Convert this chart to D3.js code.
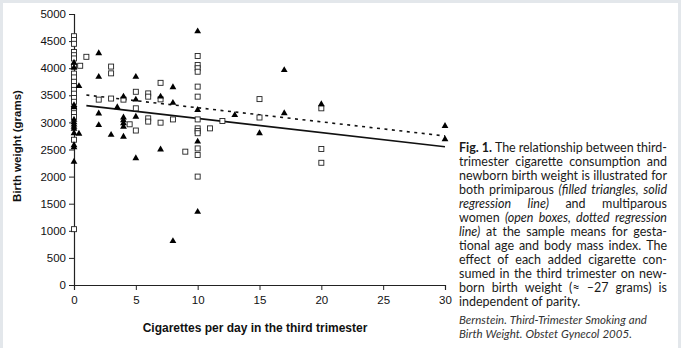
<!DOCTYPE html>
<html>
<head>
<meta charset="utf-8">
<script src="https://cdn.jsdelivr.net/npm/d3@7"></script>
<style>
  body { margin: 0; background: #e3e7eb; }
  svg { display: block; }
</style>
</head>
<body>
<svg id="chart" width="681" height="348"></svg>
<script>
// primiparous women - filled triangles
var primiparous = [
  [0, 4100], [0, 4010], [0, 3320], [0, 3280], [0, 3050], [0, 3000], [0, 2960], [0, 2920],
  [0, 2880], [0, 2800], [0, 2580], [0, 2540], [0, 2275],
  [0.4, 3670], [0.4, 2790],
  [2, 4275], [2, 3840], [2, 3165], [2, 2950],
  [3, 2770], [3.5, 3280],
  [4, 3475], [4, 3090], [4, 3040], [4, 2985], [4, 2920], [4, 2735],
  [5, 3840], [5, 3420], [5, 3105], [5, 2340],
  [7, 3475], [7, 2500],
  [8, 3650], [8, 3360], [8, 810],
  [10, 4680], [10, 3230], [10, 2645], [10, 1350],
  [13, 3135], [15, 2800], [17, 3965], [17, 3170], [20, 3335],
  [30, 2935], [30, 2690]
];

// multiparous women - open boxes
var multiparous = [
  [0, 4590], [0, 4520], [0, 4450], [0, 4300], [0, 4240], [0, 4180], [0, 4030], [0, 3900],
  [0, 3830], [0, 3750], [0, 3670], [0, 3600], [0, 3530], [0, 3450], [0, 3380], [0, 3230],
  [0, 3170], [0, 3100], [0, 2680], [0, 1030],
  [0.5, 4045], [1, 4210], [2, 3420],
  [3, 4030], [3, 3905], [3, 3440],
  [4, 3420], [4.5, 2965],
  [5, 3565], [5, 3260], [5, 2850],
  [6, 3535], [6, 3475], [6, 3075], [6, 3015],
  [7, 3730], [7, 3425], [7, 2995],
  [8, 3055], [9, 2460],
  [10, 4225], [10, 4060], [10, 4000], [10, 3935], [10, 3660], [10, 3475], [10, 3055],
  [10, 2890], [10, 2840], [10, 2800], [10, 2520], [10, 2400], [10, 2000],
  [11, 2890], [12, 3025],
  [15, 3430], [15, 3090],
  [20, 3260], [20, 2510], [20, 2255]
];

// regression lines (end points)
var primLine = [[1, 3310], [30, 2550]];
var multiLine = [[1, 3505], [30, 2750]];

var xTicks = [0, 5, 10, 15, 20, 25, 30];
var yTicks = [0, 500, 1000, 1500, 2000, 2500, 3000, 3500, 4000, 4500, 5000];

// caption - "b:" bold word, "i:" italic word
var captionLines = [
  "b:Fig. b:1. The relationship between third-",
  "trimester cigarette consumption and",
  "newborn birth weight is illustrated for",
  "both primiparous i:(filled i:triangles, i:solid",
  "i:regression i:line) and multiparous",
  "women i:(open i:boxes, i:dotted i:regression",
  "i:line) at the sample means for gesta-",
  "tional age and body mass index. The",
  "effect of each added cigarette con-",
  "sumed in the third trimester on new-",
  "born birth weight (\u2248 \u201327 grams) is",
  "independent of parity."
];
var citationLines = [
  "Bernstein. Third-Trimester Smoking and",
  "Birth Weight. Obstet Gynecol 2005."
];

var svg = d3.select("#chart");

// white page inside the grey frame
svg.append("rect")
  .attr("x", 3).attr("y", 3)
  .attr("width", 675).attr("height", 345)
  .attr("fill", "#fff");

var x = d3.scaleLinear().domain([0, 30]).range([74, 445]);
var y = d3.scaleLinear().domain([0, 5000]).range([285, 14]);

var axisFont = "Liberation Sans, Arial, sans-serif";

// y axis
var yAxis = svg.append("g")
  .attr("transform", "translate(" + x(0) + ",0)")
  .call(d3.axisLeft(y).tickValues(yTicks).tickSize(5).tickPadding(3).tickFormat(d3.format("d")));
// x axis
var xAxis = svg.append("g")
  .attr("transform", "translate(0," + y(0) + ")")
  .call(d3.axisBottom(x).tickValues(xTicks).tickSize(5).tickPadding(6).tickFormat(d3.format("d")));

[xAxis, yAxis].forEach(function (g) {
  g.select(".domain").attr("stroke", "#222").attr("stroke-width", 1.2);
  g.selectAll(".tick line").attr("stroke", "#222");
  g.selectAll(".tick text")
    .attr("fill", "#111")
    .style("font-family", axisFont)
    .style("font-size", "11.5px");
});

// axis titles
svg.append("text")
  .attr("transform", "translate(21,146) rotate(-90)")
  .attr("text-anchor", "middle")
  .style("font-family", axisFont)
  .style("font-size", "11.5px")
  .style("font-weight", "bold")
  .attr("fill", "#111")
  .text("Birth weight (grams)");

svg.append("text")
  .attr("x", 255).attr("y", 332)
  .attr("text-anchor", "middle")
  .style("font-family", axisFont)
  .style("font-size", "12px")
  .style("font-weight", "bold")
  .attr("fill", "#111")
  .text("Cigarettes per day in the third trimester");

// regression lines
var line = d3.line().x(function (d) { return x(d[0]); }).y(function (d) { return y(d[1]); });

svg.append("path")
  .datum(primLine)
  .attr("d", line)
  .attr("fill", "none")
  .attr("stroke", "#111")
  .attr("stroke-width", 1.6);

svg.append("path")
  .datum(multiLine)
  .attr("d", line)
  .attr("fill", "none")
  .attr("stroke", "#111")
  .attr("stroke-width", 1.6)
  .attr("stroke-dasharray", "3,4.5");

// open boxes
svg.append("g")
  .selectAll("rect")
  .data(multiparous)
  .enter()
  .append("rect")
  .attr("x", function (d) { return x(d[0]) - 2.5; })
  .attr("y", function (d) { return y(d[1]) - 2.5; })
  .attr("width", 5).attr("height", 5)
  .attr("fill", "#fff")
  .attr("stroke", "#222")
  .attr("stroke-width", 0.9);

// filled triangles
var tri = d3.symbol().type(d3.symbolTriangle).size(20);
svg.append("g")
  .selectAll("path")
  .data(primiparous)
  .enter()
  .append("path")
  .attr("d", tri)
  .attr("transform", function (d) { return "translate(" + x(d[0]) + "," + y(d[1]) + ")"; })
  .attr("fill", "#000");

// caption, justified by hand
var capFont = "Lato, 'Open Sans', sans-serif";
var capX = 459, capW = 208, capY = 152, capStep = 14;

function drawLine(str, yy, justify, size, baseStyle, colour) {
  var words = str.split(" ").map(function (w) {
    if (w.indexOf("b:") == 0) return { t: w.slice(2), s: "bold" };
    if (w.indexOf("i:") == 0) return { t: w.slice(2), s: "italic" };
    return { t: w, s: baseStyle };
  });
  var g = svg.append("g");
  var nodes = words.map(function (w) {
    return g.append("text")
      .attr("y", yy)
      .style("font-family", capFont)
      .style("font-size", size + "px")
      .style("font-weight", w.s == "bold" ? "bold" : "normal")
      .style("font-style", w.s == "italic" ? "italic" : "normal")
      .attr("fill", colour)
      .text(w.t);
  });
  var widths = nodes.map(function (n) { return n.node().getComputedTextLength(); });
  var space = size * 0.26;
  if (justify && words.length > 1)
    space = (capW - d3.sum(widths)) / (words.length - 1);
  var cx = capX;
  nodes.forEach(function (n, i) {
    n.attr("x", cx);
    cx += widths[i] + space;
  });
}

captionLines.forEach(function (l, i) {
  drawLine(l, capY + i * capStep, i < captionLines.length - 1, 12.5, "normal", "#1a1a1a");
});
citationLines.forEach(function (l, i) {
  drawLine(l, 324 + i * 14, false, 11.5, "italic", "#333");
});
</script>
</body>
</html>
